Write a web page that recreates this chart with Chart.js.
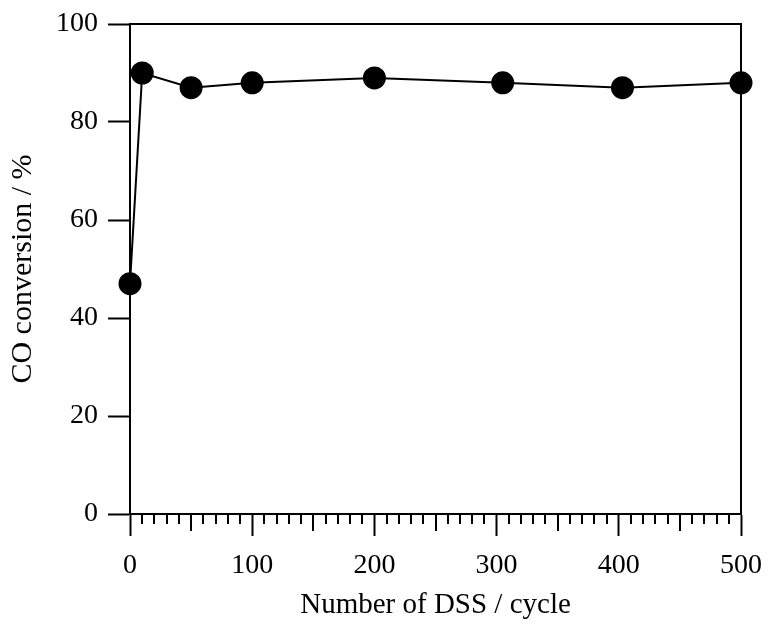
<!DOCTYPE html>
<html>
<head>
<meta charset="utf-8">
<script src="https://cdn.jsdelivr.net/npm/chart.js@4"></script>
<style>
  html, body { margin: 0; padding: 0; background: #fff; }
  #wrap { width: 768px; height: 626px; }
</style>
</head>
<body>
<div id="wrap"><canvas id="dssChart" width="768" height="626"></canvas></div>
<script>
// CO conversion vs number of DSS cycles
const cycles = [0, 10, 50, 100, 200, 305, 403, 500];
const conversion = [47, 90, 87, 88, 89, 88, 87, 88];
const xTicks = [0, 100, 200, 300, 400, 500];
const yTicks = [0, 20, 40, 60, 80, 100];
const minorStep = 10;
const midStep = 50;

const serif = '"Liberation Serif", "Times New Roman", serif';

// minor ticks on the x axis, the frame on top and right
const extraTicks = {
    id: 'extraTicks',
    afterDraw(chart) {
        const ctx = chart.ctx;
        const x = chart.scales.x;
        const area = chart.chartArea;
        ctx.save();
        ctx.strokeStyle = '#000';
        ctx.lineWidth = 2;
        for (let v = x.min; v <= x.max; v += minorStep) {
            if (v % 100 === 0) continue;
            const px = Math.round(x.getPixelForValue(v));
            const len = v % midStep === 0 ? 17 : 10;
            ctx.beginPath();
            ctx.moveTo(px, area.bottom);
            ctx.lineTo(px, area.bottom + len);
            ctx.stroke();
        }
        ctx.beginPath();
        ctx.moveTo(area.left, area.top);
        ctx.lineTo(area.right, area.top);
        ctx.lineTo(area.right, area.bottom);
        ctx.stroke();
        ctx.restore();
    }
};

new Chart(document.getElementById('dssChart'), {
    type: 'scatter',
    data: {
        datasets: [{
            data: cycles.map((c, i) => ({ x: c, y: conversion[i] })),
            showLine: true,
            borderColor: '#000',
            borderWidth: 2,
            backgroundColor: '#000',
            pointRadius: 10.5,
            pointHoverRadius: 10.5,
            clip: false
        }]
    },
    options: {
        responsive: false,
        animation: false,
        layout: { padding: { top: 24, right: 27, left: 0, bottom: 0 } },
        plugins: {
            legend: { display: false },
            tooltip: { enabled: false }
        },
        scales: {
            x: {
                type: 'linear',
                min: 0,
                max: 500,
                afterBuildTicks: s => { s.ticks = xTicks.map(v => ({ value: v })); },
                afterFit: s => { s.height = 112; s.paddingLeft = 0; s.paddingRight = 0; },
                grid: { drawOnChartArea: false, tickLength: 22, tickWidth: 2, color: '#000' },
                border: { color: '#000', width: 2 },
                ticks: { color: '#000', font: { family: serif, size: 28 }, padding: 13 },
                title: {
                    display: true,
                    text: 'Number of DSS / cycle',
                    color: '#000',
                    font: { family: serif, size: 29 },
                    padding: { top: 4, bottom: 3 }
                }
            },
            y: {
                type: 'linear',
                min: 0,
                max: 100,
                afterBuildTicks: s => { s.ticks = yTicks.map(v => ({ value: v })); },
                afterFit: s => { s.width = 130; s.paddingTop = 0; s.paddingBottom = 0; },
                grid: { drawOnChartArea: false, tickLength: 22, tickWidth: 2, color: '#000' },
                border: { color: '#000', width: 2 },
                ticks: { color: '#000', font: { family: serif, size: 28 }, padding: 10 },
                title: {
                    display: true,
                    text: 'CO conversion / %',
                    color: '#000',
                    font: { family: serif, size: 30 },
                    padding: { top: 5, bottom: 4 }
                }
            }
        }
    },
    plugins: [extraTicks]
});
</script>
</body>
</html>
